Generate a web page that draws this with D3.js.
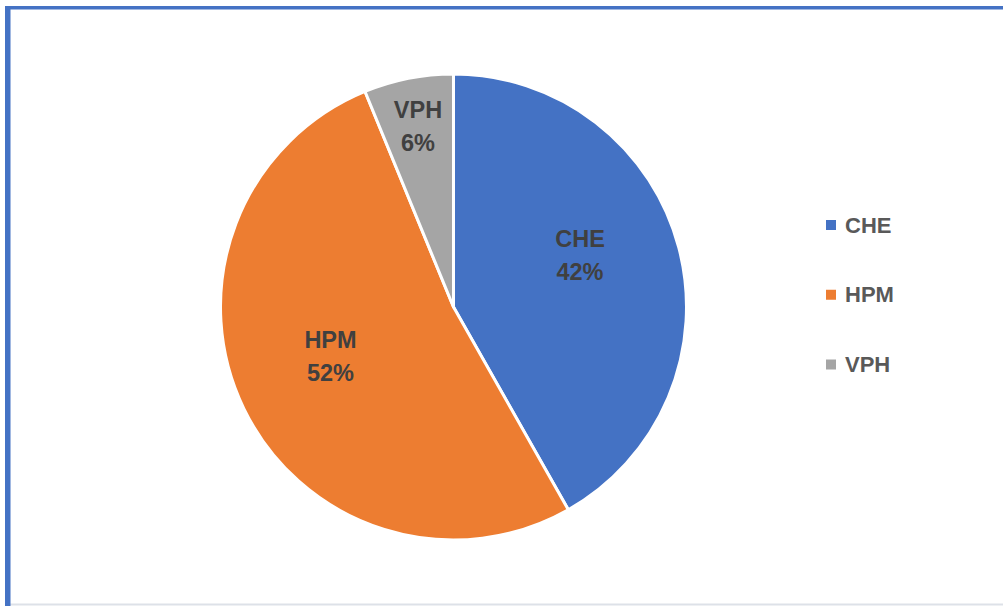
<!DOCTYPE html>
<html><head><meta charset="utf-8">
<script src="https://cdn.jsdelivr.net/npm/d3@7"></script>
<style>html,body{margin:0;padding:0;background:#fff;}svg{display:block;}</style>
</head><body>
<svg id="c" width="1003" height="606"></svg>
<script>
const categories = ["CHE", "HPM", "VPH"];
const values = [41.8, 52.0, 6.2];
const labels = ["42%", "52%", "6%"];
const colors = ["#4472C4", "#ED7D31", "#A5A5A5"];

const svg = d3.select("#c");
// frame
svg.append("rect").attr("x",0).attr("y",0).attr("width",1003).attr("height",606).attr("fill","#fff");
svg.append("line").attr("x1",10).attr("x2",1003).attr("y1",604.5).attr("y2",604.5).attr("stroke","#dde1e8").attr("stroke-width",2);
svg.append("rect").attr("x",5).attr("y",6).attr("width",998).attr("height",3.5).attr("fill","#4472C4");
svg.append("rect").attr("x",5).attr("y",6).attr("width",5.5).attr("height",600).attr("fill","#4472C4");

const cx = 453.5, cy = 307, r = 233;
const pie = d3.pie().sort(null).value(d => d)(values);
const arc = d3.arc().innerRadius(0).outerRadius(r);
const g = svg.append("g").attr("transform", `translate(${cx},${cy})`);
g.selectAll("path").data(pie).enter().append("path")
  .attr("d", arc).attr("fill", (d,i) => colors[i])
  .attr("stroke", "#fff").attr("stroke-width", 3).attr("stroke-linejoin","round");

const lblPos = [[126.5, -60], [-123, 41], [-35.5, -189]];
pie.forEach((d,i) => {
  const t = g.append("text").attr("text-anchor","middle")
    .attr("font-family","'Liberation Sans', Arial, sans-serif").attr("font-weight","bold")
    .attr("font-size", 23.5).attr("fill","#404040");
  t.append("tspan").attr("x", lblPos[i][0]).attr("y", lblPos[i][1]).text(categories[i]);
  t.append("tspan").attr("x", lblPos[i][0]).attr("y", lblPos[i][1] + 33).text(labels[i]);
});

// legend
const ly = d3.scalePoint().domain(categories).range([225, 364.5]);
const lg = svg.append("g");
categories.forEach((c,i) => {
  lg.append("rect").attr("x", 826).attr("y", ly(c) - 5).attr("width", 10).attr("height", 10).attr("fill", colors[i]);
  lg.append("text").attr("x", 845).attr("y", ly(c) + 7.5)
    .attr("font-family","'Liberation Sans', Arial, sans-serif").attr("font-weight","bold")
    .attr("font-size", 22).attr("fill","#595959").text(c);
});
</script>
</body></html>
